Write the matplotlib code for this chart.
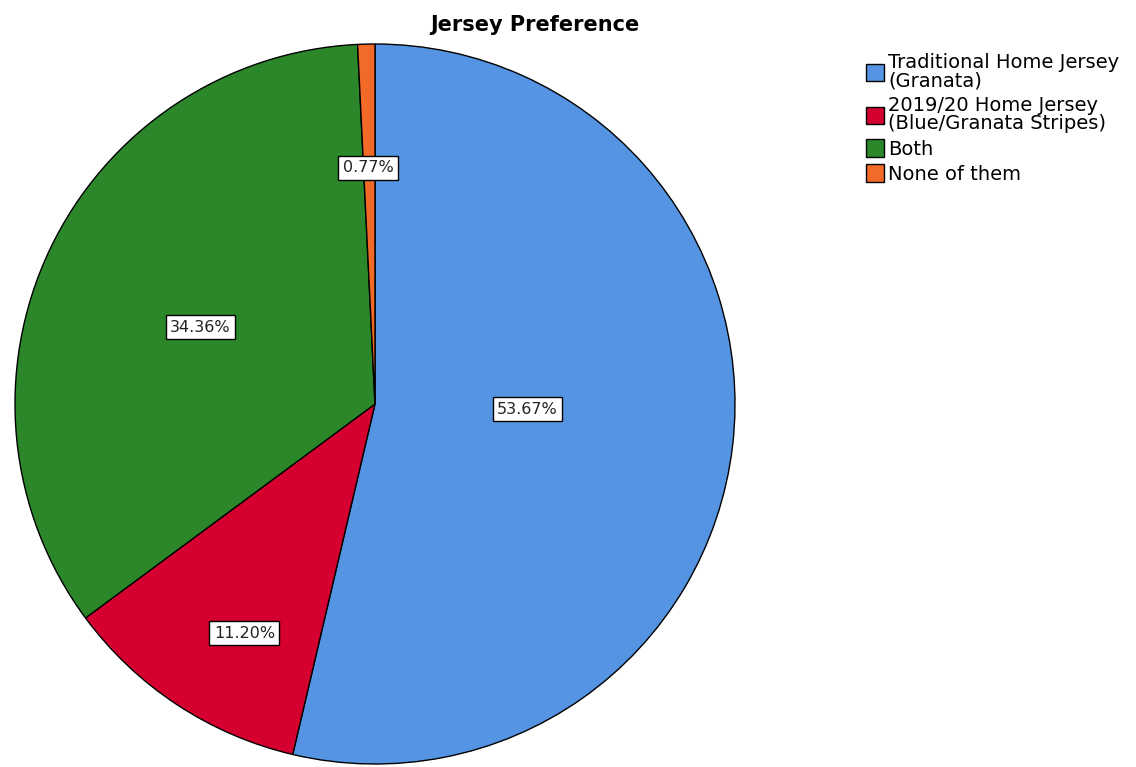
import numpy as np
import matplotlib
matplotlib.use("Agg")
import matplotlib.pyplot as plt
from matplotlib.patches import Patch

# Survey results: preferred home jersey
categories = [
    "Traditional Home Jersey\n(Granata)",
    "2019/20 Home Jersey\n(Blue/Granata Stripes)",
    "Both",
    "None of them",
]
shares = [53.67, 11.20, 34.36, 0.77]
colors = ["#5594E3", "#D5002F", "#2B872A", "#F26A28"]
# percentage label placement: radial fraction and angular nudge (degrees)
label_dist = [0.424, 0.733, 0.53, 0.657]
label_turn = [4.7, 3.7, 1.6, 0.3]

plt.rcParams["font.family"] = ["DejaVu Sans"]

fig = plt.figure(figsize=(11.36, 7.67), dpi=100)
W, H = 1136, 767
cx, cy, r = 375, 404, 360
ax = fig.add_axes([(cx - r) / W, (H - cy - r) / H, 2 * r / W, 2 * r / H])

wedges, _ = ax.pie(
    shares, colors=colors, startangle=90, counterclock=False, radius=1.0,
    wedgeprops=dict(edgecolor="black", linewidth=1.0),
)
ax.set_xlim(-1, 1)
ax.set_ylim(-1, 1)
ax.set_aspect("equal")
ax.axis("off")

for w, val, d, t in zip(wedges, shares, label_dist, label_turn):
    mid = np.deg2rad((w.theta1 + w.theta2) / 2 + t)
    ax.text(d * np.cos(mid), d * np.sin(mid), f"{val:.2f}%",
            ha="center", va="center", fontsize=11.5, color="#222222",
            bbox=dict(boxstyle="square,pad=0.28", facecolor="white",
                      edgecolor="black", linewidth=1.0))

fig.text(535 / W, 1 - 25 / H, "Jersey Preference", ha="center", va="center",
         fontsize=15, fontweight="bold")

handles = [Patch(facecolor=c, edgecolor="black", linewidth=1.0) for c in colors]
leg = fig.legend(handles, categories, loc="upper left",
                 bbox_to_anchor=(866 / W, 1 - 53 / H), frameon=False,
                 fontsize=14, handlelength=0.95, handleheight=1.0,
                 handletextpad=0.2, labelspacing=0.3, borderpad=0.0,
                 borderaxespad=0.0)
for txt in leg.get_texts():
    txt.set_linespacing(0.95)

fig.savefig("out.png", dpi=100)
